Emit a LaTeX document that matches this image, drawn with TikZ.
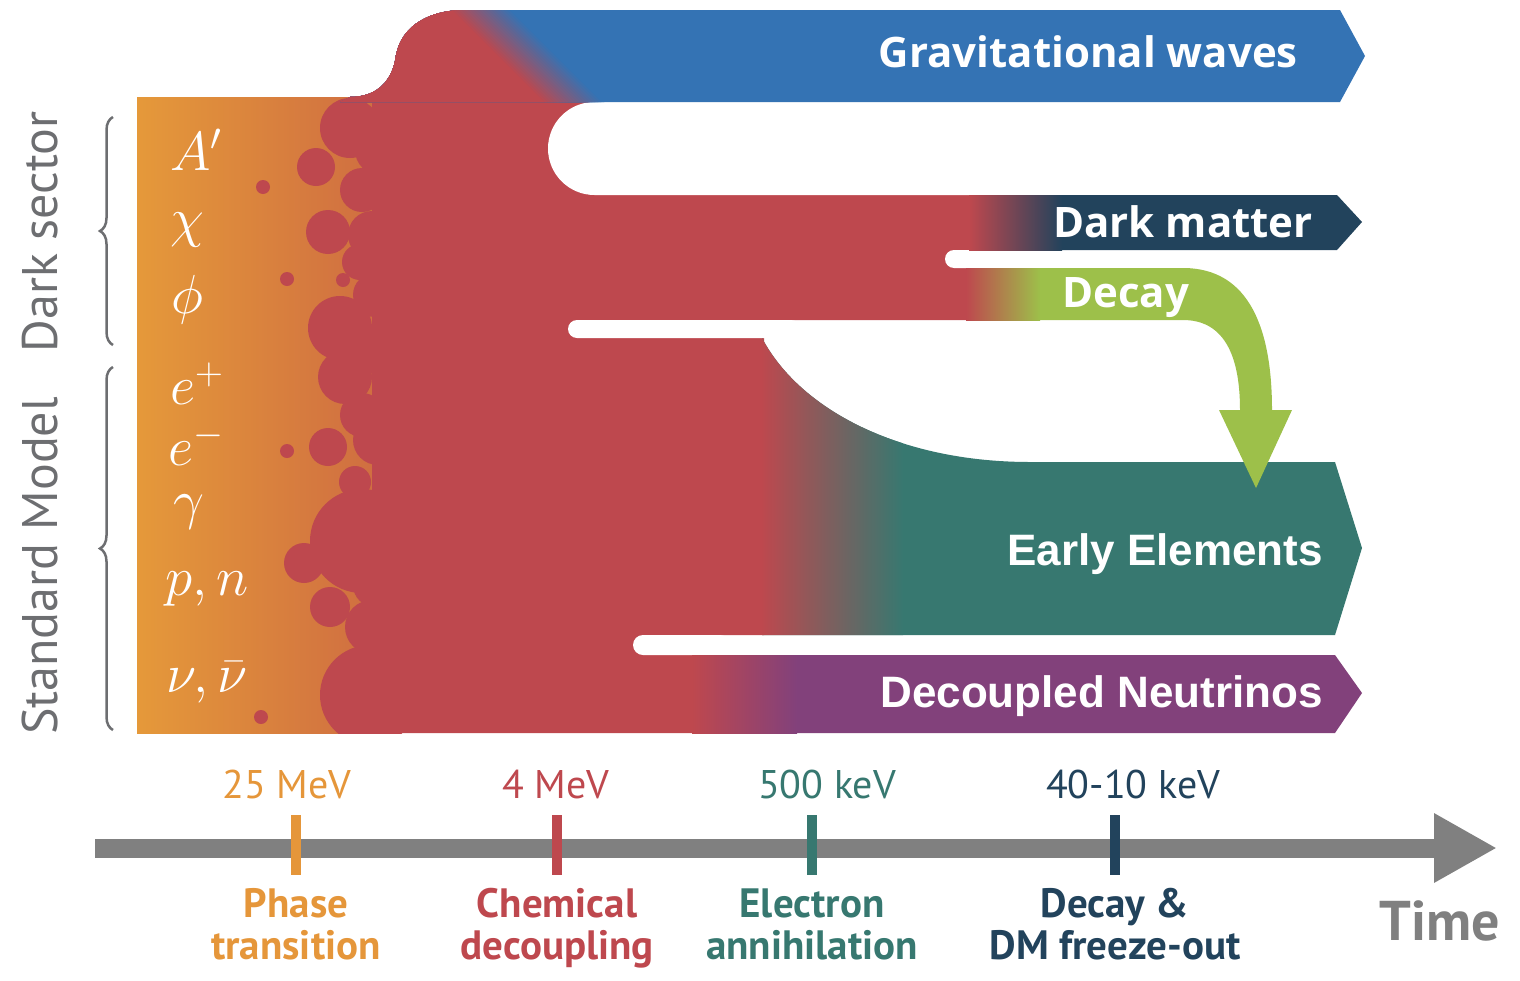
\RequirePackage{fix-cm}
\documentclass[tikz,border=0pt]{standalone}
\usepackage{fontspec}
\setmainfont{PT Sans}
\newfontfamily\bandfont{Open Sans}
\newfontfamily\arialfont{Liberation Sans}
\usetikzlibrary{arrows.meta,decorations.pathreplacing}

\definecolor{bbOrange}{HTML}{E5993A}
\definecolor{bbOrangeDark}{HTML}{CF6D41}
\definecolor{bbRed}{HTML}{BE484E}
\definecolor{gwBlue}{HTML}{3473B4}
\definecolor{dmNavy}{HTML}{22435C}
\definecolor{decayGreen}{HTML}{9DC04A}
\definecolor{eeTeal}{HTML}{377870}
\definecolor{nuPurple}{HTML}{82417B}
\definecolor{axisGray}{HTML}{808080}
\definecolor{labelGray}{HTML}{6D6E71}
\definecolor{tkOrange}{HTML}{E5963A}

\begin{document}
\begin{tikzpicture}[
    x=1pt, y=-1pt,
    band/.style={font=\bandfont\bfseries\fontsize{42}{48}\selectfont, text=white, inner sep=0pt},
    bandarial/.style={font=\arialfont\bfseries\fontsize{44}{50}\selectfont, text=white, inner sep=0pt},
    greek/.style={text=white, anchor=base west, inner sep=0pt, font=\fontsize{55}{60}\selectfont},
    sector/.style={rotate=90, text=labelGray, inner sep=0pt, font=\fontsize{50}{60}\selectfont},
    sectorbrace/.style={decorate, decoration={brace, amplitude=13pt}, draw=labelGray, line width=2.5pt},
    energy/.style={anchor=base, inner sep=0pt, font=\fontsize{40}{48}\selectfont},
    event/.style={anchor=base, align=center, inner sep=0pt, font=\bfseries\fontsize{41}{42}\selectfont},
    tick/.style={line width=10pt},
    gap/.style={fill=white},
    timeline/.style={line width=19pt, draw=axisGray, -{Triangle[length=63pt, width=65pt]}}
]
\useasboundingbox (0,0) rectangle (1520,980);

% hot plasma: orange, then red with bubbly edge
\shade[left color=bbOrange, right color=bbOrangeDark] (137,97) rectangle (380,733);
\fill[bbRed] (372,97) -- (972,97) -- (972,320) -- (764,320) -- (764,635) -- (695,635) -- (695,733) -- (372,733) -- cycle;
\begin{scope}
  \clip (137,97) rectangle (1400,733);
  \foreach \cx/\cy/\r in {350/128/30, 380/150/25, 316/167/19, 362/190/22, 328/232/22, 372/235/24,
      360/262/18, 343/280/7, 375/295/22, 340/328/32, 345/377/27, 380/350/25, 362/415/22,
      378/440/25, 328/447/19, 355/482/16, 362/541/52, 304/563/20, 375/585/22,
      330/607/20, 372/627/27, 370/695/50}
    \fill[bbRed] (\cx,\cy) circle[radius=\r];
\end{scope}
\foreach \cx/\cy in {263/187, 287/279, 287/451, 261/717}
  \fill[bbRed] (\cx,\cy) circle[radius=7];

% white gaps between the bands
\fill[gap, rounded corners=46.5] (548,102) rectangle (1420,195);
\fill[gap, rounded corners=9] (945,250) rectangle (1010,268);
\fill[gap, rounded corners=9] (568,320) rectangle (800,338);
\fill[gap, rounded corners=10] (633,635) rectangle (730,655);

% gravitational waves
\begin{scope}
  \clip (350,97) .. controls (378,97) and (393,80) .. (396,55) .. controls (402,25) and (430,10) .. (465,10)
    -- (1340,10) -- (1365,56) -- (1340,102) -- (340,102) -- cycle;
  \fill[gwBlue] (300,0) rectangle (1400,110);
  \foreach \k in {0,...,20}{
    \pgfmathtruncatemacro\p{5*\k}
    \fill[bbRed!\p!gwBlue] (300,-5) -- ({497-3*\k},-5) -- ({612-3*\k},110) -- (300,110) -- cycle;
  }
\end{scope}

% dark matter
\fill[dmNavy] (970,195) -- (1337,195) -- (1362,222) -- (1337,250) -- (970,250) -- cycle;
\shade[left color=bbRed, right color=dmNavy] (969,195) rectangle (1062,250);

% early elements
\begin{scope}
  \clip (762,338) .. controls (800,410) and (900,462) .. (1030,462) -- (1335,462) -- (1362,548)
    -- (1335,635) -- (762,635) -- cycle;
  \fill[eeTeal] (750,330) rectangle (1370,640);
  \shade[left color=bbRed, right color=eeTeal] (761,330) rectangle (903,640);
\end{scope}

% decay arrow
\fill[decayGreen] (967,268) -- (1183,268) .. controls (1250,268) and (1272,330) .. (1272,410)
  -- (1292,410) -- (1256,488) -- (1219,410) -- (1240,410)
  .. controls (1240,352) and (1222,320) .. (1183,320) -- (967,320) -- cycle;
\shade[left color=bbRed, right color=decayGreen] (966,268) rectangle (1040,320);

% decoupled neutrinos
\fill[nuPurple] (693,655) -- (1335,655) -- (1362,693) -- (1335,733) -- (693,733) -- cycle;
\shade[left color=bbRed, right color=nuPurple] (692,655) rectangle (797,733);

% band labels
\node[band, anchor=base east] (gwlab) at (1298,67) {Gravitational waves};
\node[band, anchor=base east] (dmlab) at (1313,237) {Dark matter};
\node[band, anchor=base west] (decaylab) at (1062,307) {Decay};
\node[bandarial, anchor=base east] (eelab) at (1323,565) {Early Elements};
\node[bandarial, anchor=base east] (nulab) at (1323,707) {Decoupled Neutrinos};

% particles
\node[greek] (aprime) at (170,170) {$A'$};
\node[greek] (chi) at (170,236) {$\chi$};
\node[greek] (phi) at (171,313) {$\phi$};
\node[greek] (eplus) at (170,404) {$e^+$};
\node[greek] (eminus) at (168,465) {$e^-$};
\node[greek] (gamma) at (173,518) {$\gamma$};
\node[greek] (pn) at (165,595) {$p,n$};
\node[greek] (nu) at (166,692) {$\nu,\bar\nu$};

% sectors
\draw[sectorbrace] (113,345) -- (113,117);
\draw[sectorbrace] (113,730) -- (113,367);
\node[sector] (darklab) at (40,232) {Dark sector};
\node[sector] (smlab) at (40,566) {Standard Model};

% time axis
\coordinate (t0) at (95,848);
\coordinate (t1) at (1497,848);
\draw[timeline] (t0) -- (t1);
\foreach \xt/\xe/\col/\en/\ev [count=\i] in {296/287/tkOrange/25 MeV/{Phase\\transition},
    557/556/bbRed/4 MeV/{Chemical\\decoupling}, 812/827/eeTeal/500 keV/{Electron\\annihilation},
    1115/1133/dmNavy/40-10 keV/{Decay \&\\DM freeze-out}}{
  \draw[tick, draw=\col] (\xt,815) -- (\xt,875);
  \node[energy, text=\col] (energy\i) at (\xe,798) {\en};
  \node[event, text=\col] (event\i) at (\xt,959) {\ev};
}
\node[font=\bfseries\fontsize{56}{60}\selectfont, text=axisGray, anchor=base, inner sep=0pt] (timelab) at (1440,940) {Time};
\end{tikzpicture}
\end{document}
